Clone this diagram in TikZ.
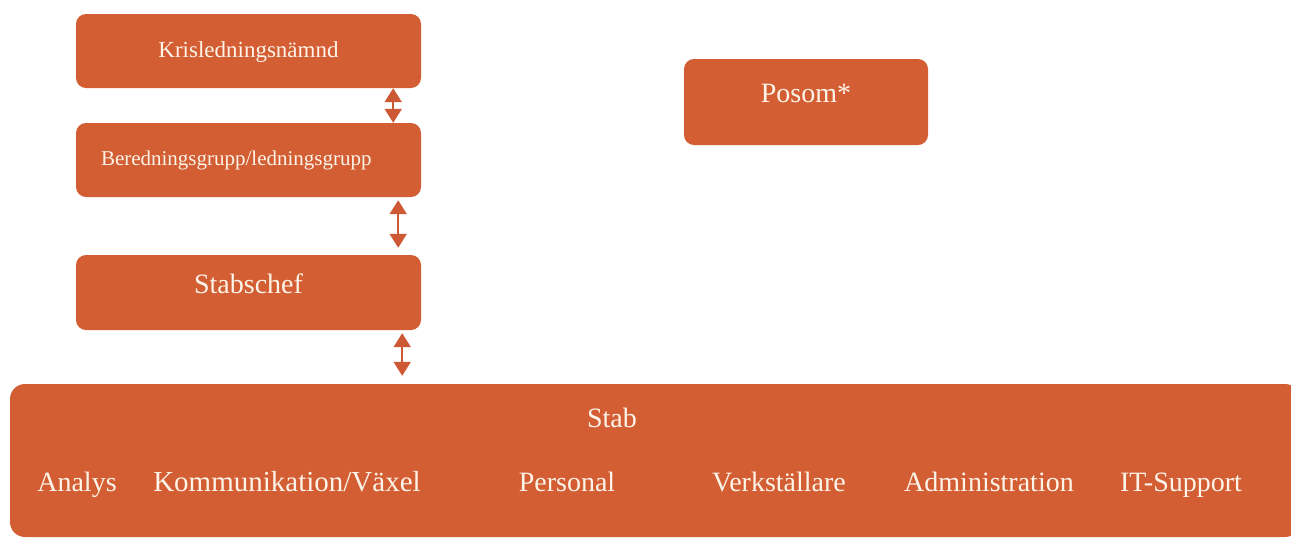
\documentclass[tikz,border=0pt]{standalone}
\usepackage{fontspec}
\setmainfont{Liberation Serif}
\usetikzlibrary{arrows.meta}

\definecolor{boxorange}{RGB}{212,94,52}
\definecolor{arroworange}{RGB}{205,88,52}
\definecolor{boxtext}{RGB}{252,244,232}

\tikzset{
    unit/.style={draw=none, fill=boxorange, rounded corners=10pt, text=boxtext,
        minimum width=345pt, minimum height=74pt, inner sep=0pt},
    member/.style={text=boxtext, font=\fontsize{28}{30}\selectfont, inner sep=0pt, anchor=base},
    link/.style={draw=arroworange, line width=2pt,
        {Triangle[width=17pt,length=14pt]}-{Triangle[width=17pt,length=14pt]}}
}

\begin{document}
\begin{tikzpicture}[x=1pt, y=-1pt]
    \useasboundingbox (0,0) rectangle (1291,539);

    % nodes (units)
    \node[unit, font=\fontsize{23}{25}\selectfont, text height=22pt, text depth=10pt] (kris) at (248.5,51) {Krisledningsnämnd};
    \node[unit, font=\fontsize{21}{23}\selectfont, text height=20pt, text depth=10pt, text width=345pt, align=left] (bered) at (248.5,160) {\hspace*{25pt}Beredningsgrupp/ledningsgrupp};
    \node[unit, font=\fontsize{28}{30}\selectfont, minimum height=75pt, text height=20pt, text depth=19pt] (chef) at (248.5,292.5) {Stabschef};
    \node[unit, font=\fontsize{28}{30}\selectfont, minimum width=244pt, minimum height=86pt, text height=20pt, text depth=20pt] (posom) at (806,102) {Posom*};
    \node[unit, rounded corners=15pt, minimum width=1290pt, minimum height=153pt] (stab) at (655,460.5) {};

    % nodes (staff functions)
    \node[member] (stabtitle) at (612,427) {Stab};
    \node[member] (analys) at (77,491) {Analys};
    \node[member, font=\fontsize{29}{31}\selectfont] (komm) at (287,491) {Kommunikation/Växel};
    \node[member] (personal) at (567,491) {Personal};
    \node[member] (verk) at (779,491) {Verkställare};
    \node[member] (admin) at (989,491) {Administration};
    \node[member] (itsup) at (1181,491) {IT-Support};

    % edges
    \draw[link] (kris.south east) ++(-28,0) coordinate (k1) -- (k1 |- bered.north); % kris <-> bered
    \draw[link] ([xshift=-23pt,yshift=-3pt]bered.south east) coordinate (b1) -- ([yshift=7pt]b1 |- chef.north); % bered <-> chef
    \draw[link] ([xshift=-19pt,yshift=-3pt]chef.south east) coordinate (c1) -- ([yshift=8pt]c1 |- stab.north); % chef <-> stab

\end{tikzpicture}
\end{document}
